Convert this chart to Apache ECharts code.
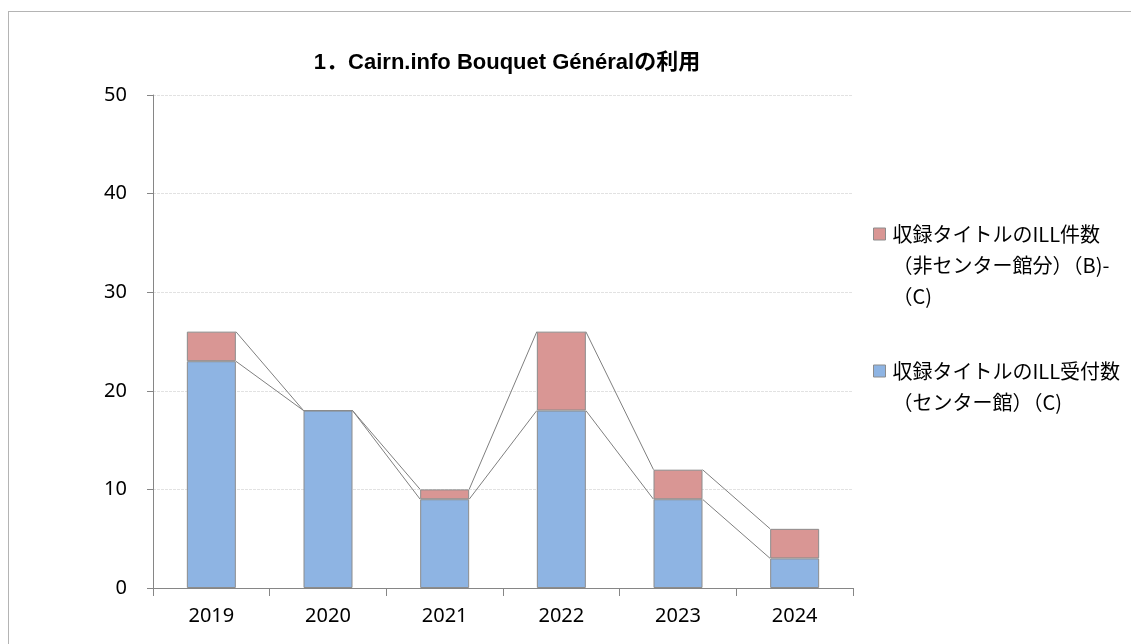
<!DOCTYPE html>
<html>
<head>
<meta charset="utf-8">
<script src="https://cdn.jsdelivr.net/npm/echarts@6/dist/echarts.min.js"></script>
<style>
  html, body { margin: 0; padding: 0; background: #fff; }
  #frame {
    position: absolute; left: 8px; top: 11px; width: 1200px; height: 700px;
    border: 1px solid #b4b4b4; box-sizing: border-box;
  }
  #chart { position: absolute; left: 0; top: 0; width: 1131px; height: 644px; }
</style>
</head>
<body>
<div id="frame"></div>
<div id="chart"></div>
<script>
// data
const years = ["2019", "2020", "2021", "2022", "2023", "2024"];
const centerCounts = [23, 18, 9, 18, 9, 3];     // 収録タイトルのILL受付数（センター館）（C)
const otherCounts = [3, 0, 1, 8, 3, 3];         // 収録タイトルのILL件数（非センター館分）（B)-（C)
const yTicks = { min: 0, max: 50, interval: 10 };

const nameOther = "収録タイトルのILL件数\n（非センター館分）（B)-\n（C)";
const nameCenter = "収録タイトルのILL受付数\n（センター館）（C)";

const BLUE = "#8EB4E3";
const PINK = "#D99694";
const EDGE = "#8c8c8c";
const BAR_RATIO = 0.42;
const font = "'Noto Sans', 'Noto Sans CJK JP', sans-serif";
const cjkFont = "'Noto Sans CJK JP', 'Noto Sans', sans-serif";

// tops of each stack level, used for the connecting series lines
const totals = centerCounts.map((v, i) => v + otherCounts[i]);
const linkData = (tops) =>
  tops.slice(0, -1).map((v, i) => [i, v, tops[i + 1]]);

const renderLink = (params, api) => {
  const i = api.value(0);
  const p1 = api.coord([i, api.value(1)]);
  const p2 = api.coord([i + 1, api.value(2)]);
  const hw = api.size([1, 0])[0] * BAR_RATIO / 2;
  return {
    type: "line",
    shape: { x1: p1[0] + hw, y1: p1[1], x2: p2[0] - hw, y2: p2[1] },
    style: { stroke: "#7f7f7f", lineWidth: 1 },
    silent: true,
  };
};

// legend drawn by hand so the swatch sits on the first text line
const legendItem = (name, color, firstLineY) => ({
  type: "group",
  left: 873,
  top: firstLineY - 15.5,
  children: [
    {
      type: "rect",
      shape: { x: 0, y: 9.5, width: 12, height: 12 },
      style: { fill: color, stroke: EDGE, lineWidth: 1 },
    },
    {
      type: "text",
      x: 19,
      y: 0,
      style: {
        text: name,
        fontFamily: cjkFont,
        fontSize: 20,
        lineHeight: 31,
        fill: "#000",
        verticalAlign: "top",
      },
    },
  ],
});

const chart = echarts.init(document.getElementById("chart"));

chart.setOption({
  animation: false,
  title: {
    text: "1．Cairn.info Bouquet Généralの利用",
    left: 502,
    textAlign: "center",
    top: 47,
    textStyle: {
      fontFamily: "'Liberation Sans', 'Noto Sans CJK JP', sans-serif",
      fontSize: 22,
      fontWeight: "bold",
      color: "#000",
    },
  },
  grid: { left: 153, right: 278, top: 95, bottom: 56 },
  graphic: [
    legendItem(nameOther, PINK, 234),
    legendItem(nameCenter, BLUE, 371),
  ],
  xAxis: {
    type: "category",
    data: years,
    axisLine: { lineStyle: { color: "#868686", width: 1 } },
    axisTick: { show: true, length: 8, interval: 0, lineStyle: { color: "#868686" } },
    axisLabel: { margin: 18, fontFamily: font, fontSize: 20, color: "#000" },
  },
  yAxis: {
    type: "value",
    min: yTicks.min,
    max: yTicks.max,
    interval: yTicks.interval,
    axisLine: { show: true, lineStyle: { color: "#868686", width: 1 } },
    axisTick: { show: true, length: 6, lineStyle: { color: "#868686" } },
    axisLabel: { margin: 26, fontFamily: font, fontSize: 20, color: "#000" },
    splitLine: { lineStyle: { color: "#e2e2e2", width: 1, type: [3, 1] } },
  },
  series: [
    {
      name: nameCenter,
      type: "bar",
      stack: "total",
      barWidth: BAR_RATIO * 100 + "%",
      data: centerCounts,
      itemStyle: { color: BLUE, borderColor: EDGE, borderWidth: 1 },
    },
    {
      name: nameOther,
      type: "bar",
      stack: "total",
      barWidth: BAR_RATIO * 100 + "%",
      data: otherCounts,
      itemStyle: { color: PINK, borderColor: EDGE, borderWidth: 1 },
    },
    {
      type: "custom",
      renderItem: renderLink,
      data: linkData(centerCounts),
      z: 3,
      silent: true,
    },
    {
      type: "custom",
      renderItem: renderLink,
      data: linkData(totals),
      z: 3,
      silent: true,
    },
  ],
});
</script>
</body>
</html>
